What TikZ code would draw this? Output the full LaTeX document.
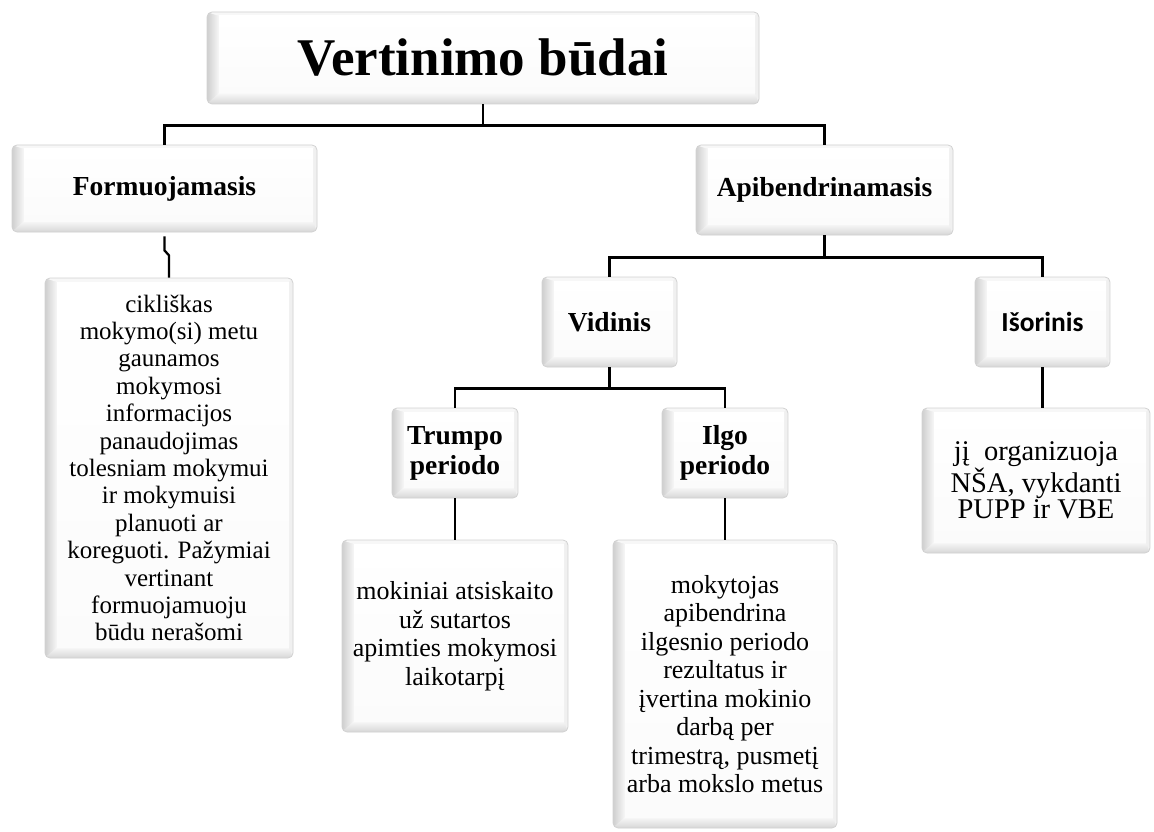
\documentclass[tikz,border=0pt]{standalone}
\usepackage{fontspec}
\setmainfont{Liberation Serif}
\newfontfamily\calibrifont{Carlito}
\usetikzlibrary{calc}
\tikzset{
  bev/.style={rounded corners=5pt, draw=gray!35, line width=0.8pt, fill=white,
    inner sep=0pt, align=center,
    path picture={
      \coordinate (SW) at (path picture bounding box.south west);
      \coordinate (NE) at (path picture bounding box.north east);
      \coordinate (NW) at (path picture bounding box.north west);
      \coordinate (SE) at (path picture bounding box.south east);
      \fill[gray!16] (SW) rectangle (NE);
      \shade[left color=gray!38, right color=gray!6, sharp corners]
        (SW) -- ($(SW)+(12pt,11pt)$) -- ($(NW)+(12pt,-4pt)$) -- (NW) -- cycle;
      \shade[top color=gray!5, bottom color=gray!32, sharp corners]
        (SW) -- (SE) -- ($(SE)+(-4pt,11pt)$) -- ($(SW)+(12pt,11pt)$) -- cycle;
      \fill[gray!6, sharp corners]
        (NW) -- (NE) -- ($(NE)+(-4pt,-4pt)$) -- ($(NW)+(12pt,-4pt)$) -- cycle;
      \fill[gray!12, sharp corners]
        (NE) -- (SE) -- ($(SE)+(-4pt,11pt)$) -- ($(NE)+(-4pt,-4pt)$) -- cycle;
      \shade[top color=white, bottom color=gray!3, sharp corners]
        ($(SW)+(12pt,11pt)$) rectangle ($(NE)+(-4pt,-4pt)$);
    }},
  head/.style={bev, font=\bfseries\fontsize{27.5}{30}\selectfont},
  desc/.style={bev, font=\fontsize{26}{28.5}\selectfont},
  conn/.style={line width=2.3pt, black},
}
\begin{document}
\begin{tikzpicture}[x=1pt, y=-1pt]
\useasboundingbox (0,0) rectangle (1154,832);

\node[bev, minimum width=552, minimum height=92,
      font=\bfseries\fontsize{53}{60}\selectfont] (title) at (483,58) {Vertinimo būdai};

\node[head, minimum width=305, minimum height=87] (form) at (164.5,188.5) {Formuojamasis};
\node[head, minimum width=257, minimum height=90] (apib) at (824.5,190) {Apibendrinamasis};

\node[desc, minimum width=248, minimum height=380, font=\fontsize{25}{27.4}\selectfont]
  (fdesc) at (169,468)
  {cikliškas\\mokymo(si) metu\\gaunamos\\mokymosi\\informacijos\\panaudojimas\\tolesniam mokymui\\ir mokymuisi\\planuoti ar\\koreguoti. Pažymiai\\vertinant\\formuojamuoju\\būdu nerašomi};

\node[head, minimum width=135, minimum height=90] (vid) at (609.5,322) {Vidinis};
\node[bev, minimum width=135, minimum height=90,
      font=\calibrifont\bfseries\fontsize{27.5}{30}\selectfont] (isor) at (1042.5,322) {Išorinis};

\node[head, minimum width=126, minimum height=90] (trumpo) at (455,453) {Trumpo\\periodo};
\node[head, minimum width=126, minimum height=90] (ilgo) at (725,453) {Ilgo\\periodo};

\node[desc, minimum width=226, minimum height=192] (tdesc) at (455,636)
  {mokiniai atsiskaito\\už sutartos\\apimties mokymosi\\laikotarpį};
\node[desc, minimum width=224, minimum height=288] (idesc) at (725,684)
  {mokytojas\\apibendrina\\ilgesnio periodo\\rezultatus ir\\įvertina mokinio\\darbą per\\trimestrą, pusmetį\\arba mokslo metus};
\node[desc, minimum width=228, minimum height=145, font=\fontsize{28.5}{26.5}\selectfont]
  (isdesc) at (1036,480.5)
  {jį\ \ organizuoja\\NŠA, vykdanti\\PUPP ir VBE};

% connectors
\draw[conn] (title.south) -- ++(0,21) -| (form.north);
\draw[conn] (title.south) -- ++(0,21) -| (apib.north);
\draw[conn] ($(form.south)+(0,4)$) -- ++(0,14) -- ++(4.5,5) -- (fdesc.north);
\draw[conn] (apib.south) -- ++(0,22) -| (vid.north);
\draw[conn] (apib.south) -- ++(0,22) -| (isor.north);
\draw[conn] (vid.south) -- ++(0,21) -| (trumpo.north);
\draw[conn] (vid.south) -- ++(0,21) -| (ilgo.north);
\draw[conn] (trumpo.south) -- (tdesc.north);
\draw[conn] (ilgo.south) -- (idesc.north);
\draw[conn] (isor.south) -- (isor.south |- isdesc.north);
\end{tikzpicture}
\end{document}
